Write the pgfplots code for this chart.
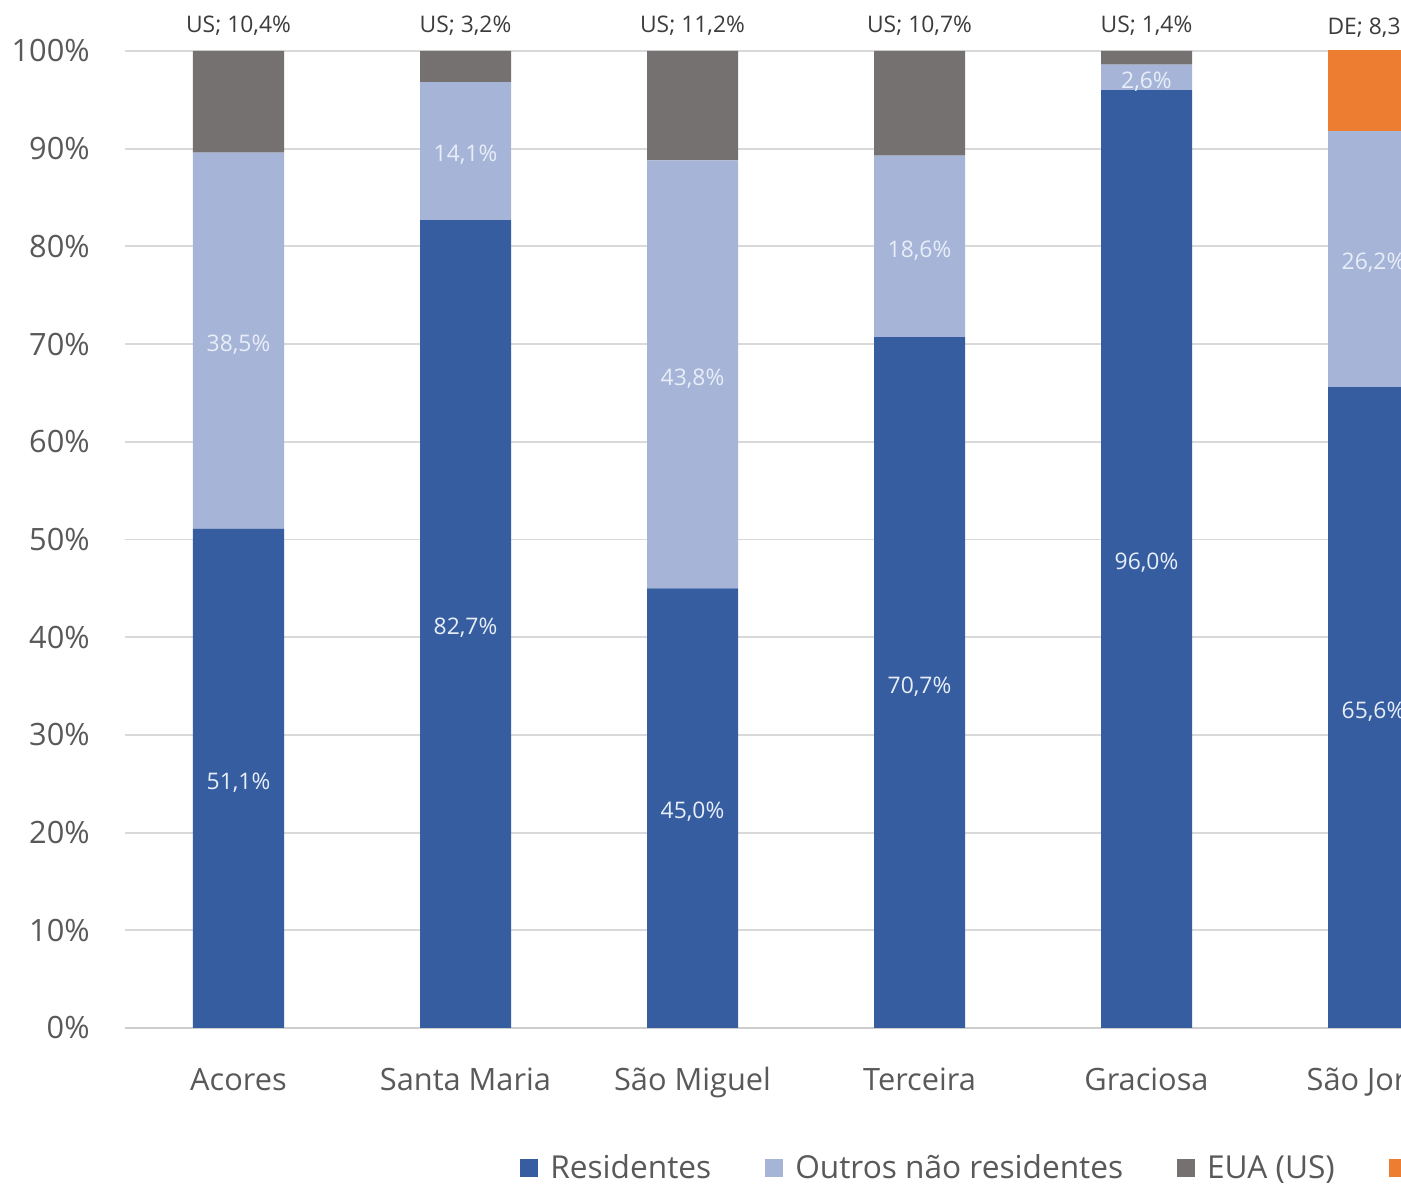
\documentclass[border=0pt]{standalone}
\usepackage{fontspec}
\setmainfont{Open Sans}
\usepackage{pgfplots}
\usepackage{pgfplotstable}
\pgfplotsset{compat=1.18}
\definecolor{cres}{RGB}{53,93,160}
\definecolor{cout}{RGB}{166,180,216}
\definecolor{cus}{RGB}{118,113,113}
\definecolor{cde}{RGB}{237,125,49}
\definecolor{ctick}{RGB}{89,89,89}
\definecolor{cgrid}{RGB}{217,217,217}
\definecolor{caxis}{RGB}{205,205,205}
\definecolor{clab}{RGB}{60,60,60}
\definecolor{cin}{RGB}{232,238,248}
\newcommand{\inlabfont}{\fontsize{13}{15}\selectfont}
\newcommand{\toplabfont}{\fontsize{13}{15}\selectfont}
\newcommand{\tickfont}{\fontsize{17.5}{20}\selectfont}
\newcommand{\legfont}{\fontsize{18}{20}\selectfont}
\tikzset{inlab/.style={text=cin, font=\inlabfont, yshift=-0.08cm},
         toplab/.style={text=clab, font=\toplabfont, yshift=-0.04cm}}
\pgfplotsset{geom/.style={at={(2.5cm,3.12cm)}, anchor=south west,
  scale only axis, width=27.24cm, height=19.54cm,
  xmin=-0.5, xmax=5.5, ymin=0, ymax=100,
  enlargelimits=false, clip=false}}

\pgfplotstableread{
x res out us de
0 51.1 38.5 10.4 0
1 82.7 14.1 3.2 0
2 45.0 43.8 11.2 0
3 70.7 18.6 10.7 0
4 96.0 2.6 1.4 0
5 65.6 26.2 0 8.3
}\islanddata

\begin{document}
\begin{tikzpicture}
\useasboundingbox (0,0) rectangle (28.02,23.68);
\clip (0,0) rectangle (28.02,23.68);
\begin{axis}[
  geom,
  ybar stacked, bar width=1.82cm,
  axis line style={draw=none},
  major tick length=0pt,
  ytick={0,10,...,100},
  yticklabels={0\%,10\%,20\%,30\%,40\%,50\%,60\%,70\%,80\%,90\%,100\%},
  ymajorgrids, grid style={cgrid, line width=1.1pt},
  xtick={0,...,5},
  xticklabels={Acores,Santa Maria,São Miguel,Terceira,Graciosa,São Jorge},
  tick label style={text=ctick, font=\tickfont},
  yticklabel style={anchor=east, inner sep=0pt, xshift=-0.7cm},
  xticklabel style={anchor=base, inner sep=0pt, yshift=-1.26cm},
  legend columns=-1,
  legend style={at={(rel axis cs:0.29,-0.1433)}, anchor=west, draw=none,
    inner sep=0pt, font=\legfont, text=ctick,
    nodes={inner sep=0pt},
    /tikz/every odd column/.append style={column sep=0.24cm},
    /tikz/every even column/.append style={column sep=1.08cm}},
  legend image code/.code={\fill[#1] (0cm,-0.18cm) rectangle (0.36cm,0.18cm);},
]
\addplot[fill=cres, draw=none] table[x=x,y=res]{\islanddata};
\addplot[fill=cout, draw=none] table[x=x,y=out]{\islanddata};
\addplot[fill=cus, draw=none] table[x=x,y=us]{\islanddata};
\addplot[fill=cde, draw=none] table[x=x,y=de]{\islanddata};
\legend{Residentes, Outros não residentes, EUA (US), Alemanha (DE)}
\draw[caxis, line width=1.3pt] (axis cs:-0.5,0) -- (axis cs:5.5,0);
\end{axis}
\begin{axis}[geom, hide axis]
\node[inlab] at (axis cs:0,25.55) {51,1\%};
\node[inlab] at (axis cs:0,70.35) {38,5\%};
\node[inlab] at (axis cs:1,41.35) {82,7\%};
\node[inlab] at (axis cs:1,89.75) {14,1\%};
\node[inlab] at (axis cs:2,22.5) {45,0\%};
\node[inlab] at (axis cs:2,66.9) {43,8\%};
\node[inlab] at (axis cs:3,35.35) {70,7\%};
\node[inlab] at (axis cs:3,80.0) {18,6\%};
\node[inlab] at (axis cs:4,48.0) {96,0\%};
\node[inlab] at (axis cs:4,97.3) {2,6\%};
\node[inlab] at (axis cs:5,32.8) {65,6\%};
\node[inlab] at (axis cs:5,78.7) {26,2\%};
\node[toplab] at (axis cs:0,102.8) {US; 10,4\%};
\node[toplab] at (axis cs:1,102.8) {US; 3,2\%};
\node[toplab] at (axis cs:2,102.8) {US; 11,2\%};
\node[toplab] at (axis cs:3,102.8) {US; 10,7\%};
\node[toplab] at (axis cs:4,102.8) {US; 1,4\%};
\node[toplab] at (axis cs:5,102.6) {DE; 8,3\%};
\end{axis}
\end{tikzpicture}
\end{document}
